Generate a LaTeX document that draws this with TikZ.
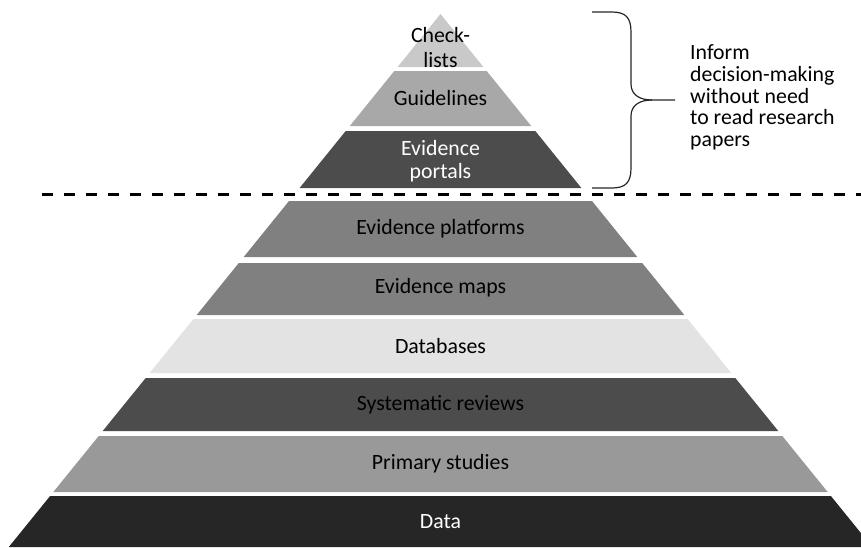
\documentclass[tikz,border=0pt]{standalone}
\usepackage{fontspec}
\setmainfont{Carlito}

\begin{document}
\begin{tikzpicture}
 [x=1pt,y=-1pt,
   every node/.style={font=\fontsize{21.8}{25}\selectfont,align=center,inner sep=0pt},
   layer 1/.style={fill=black!21},
   layer 2/.style={fill=black!34},
   layer 3/.style={fill=black!70},
   layer 4/.style={fill=black!50},
   layer 5/.style={fill=black!50},
   layer 6/.style={fill=black!11},
   layer 7/.style={fill=black!70},
   layer 8/.style={fill=black!40},
   layer 9/.style={fill=black!85},
   cutline/.style={line width=2.6pt,dash pattern=on 11pt off 11pt},
   bracket/.style={line width=1.2pt,black!85}]
  \clip (0,0) rectangle (861,547);

  % top of the pyramid
  \fill[layer 1] (440.5,14) -- (483.4,67) -- (397.6,67) -- cycle;
  \fill[layer 2] (394.3,71) -- (486.7,71) -- (531.2,126) -- (349.8,126) -- cycle;
  \fill[layer 3] (345.7,131) -- (535.3,131) -- (581.4,188) -- (299.6,188) -- cycle;
  \node (checklists) at (440.5,48) {Check-\\lists};
  \node (guidelines) at (440.5,98.5) {Guidelines};
  \node[text=white, font=\fontsize{21.8}{22.5}\selectfont] (portals) at (440.5,161) {Evidence\\portals};

  % bottom of the pyramid
  \fill[layer 4] (289,201) -- (592,201) -- (637.3,257) -- (243.7,257) -- cycle;
  \fill[layer 5] (238.8,263) -- (642.2,263) -- (684.3,315) -- (196.7,315) -- cycle;
  \fill[layer 6] (193.4,319) -- (687.6,319) -- (731.3,373) -- (149.7,373) -- cycle;
  \fill[layer 7] (145.7,378) -- (735.3,378) -- (778.3,431) -- (102.7,431) -- cycle;
  \fill[layer 8] (98.7,436) -- (782.3,436) -- (827.7,492) -- (53.3,492) -- cycle;
  \fill[layer 9] (50.1,496) -- (830.9,496) -- (872.2,547) -- (8.8,547) -- cycle;
  \node (platforms) at (440.5,229) {Evidence platforms};
  \node (maps) at (440.5,288) {Evidence maps};
  \node (databases) at (440.5,346) {Databases};
  \node (reviews) at (440.5,405) {Systematic reviews};
  \node (primary) at (440.5,464) {Primary studies};
  \node[text=white] (data) at (440.5,522) {Data};

  % dividing line
  \coordinate (cutL) at (42,194.3);
  \coordinate (cutR) at (861,194.3);
  \draw[cutline] (cutL) -- (cutR);

  % brace and note
  \draw[bracket] (592,12) -- (612,12) .. controls (626,12) and (631,18) .. (631,32)
    -- (631,84) .. controls (631,95) and (640,100) .. (652,100) -- (675,100);
  \draw[bracket] (592,188) -- (612,188) .. controls (626,188) and (631,182) .. (631,168)
    -- (631,116) .. controls (631,105) and (640,100) .. (652,100);
  \node[anchor=west,align=left,font=\fontsize{21.8}{21.7}\selectfont] (note) at (690,97.5)
    {Inform\\decision-making\\without need\\to read research\\papers};
\end{tikzpicture}
\end{document}
